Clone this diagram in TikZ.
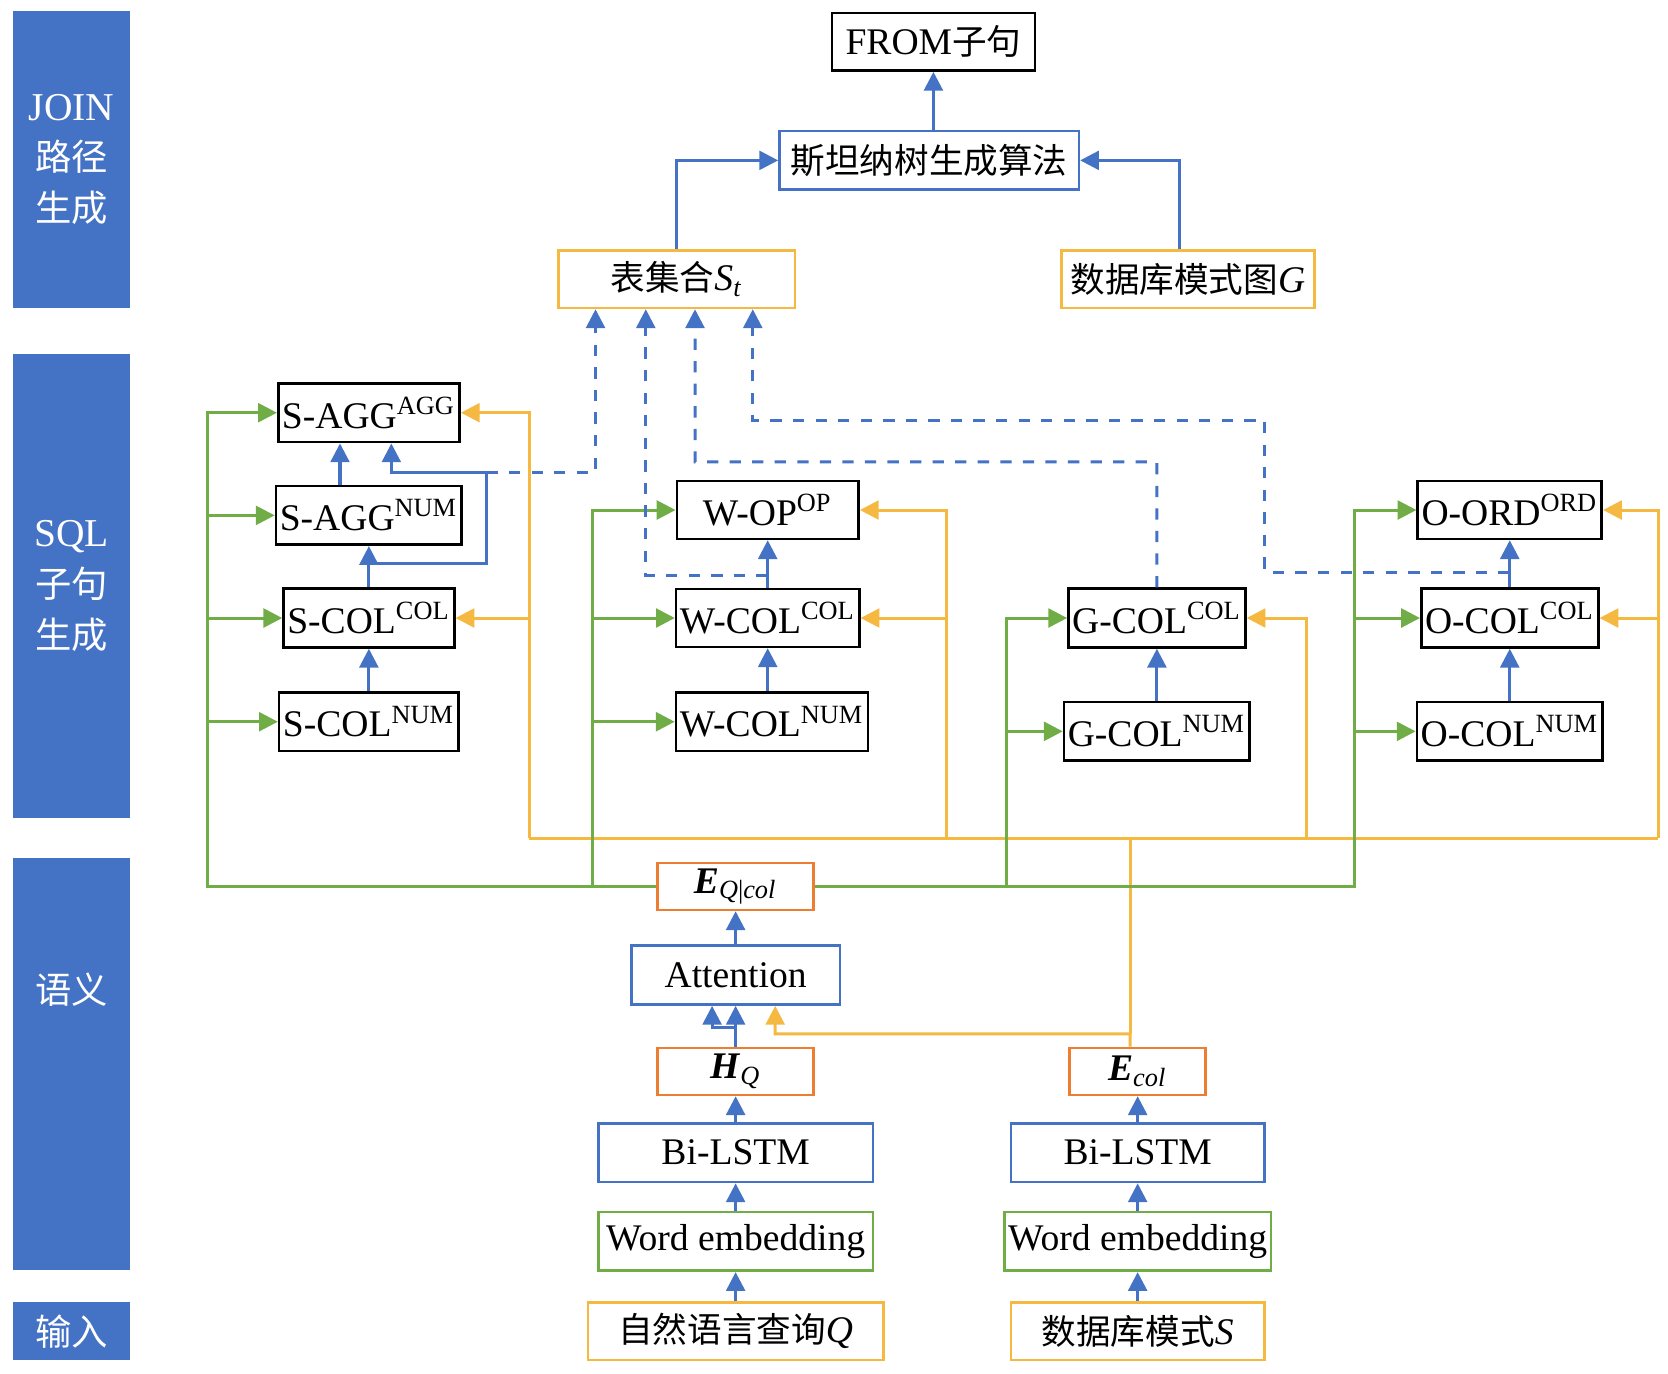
\documentclass[tikz,border=0pt]{standalone}
\usepackage{fontspec}
\setmainfont{Liberation Serif}
\newfontfamily\cjk{Noto Sans CJK SC}[Scale=0.92]
\usetikzlibrary{arrows.meta}
\definecolor{cblue}{HTML}{4472C4}
\definecolor{corange}{HTML}{F5B942}
\definecolor{cgreen}{HTML}{70AD47}
\definecolor{cred}{HTML}{ED7D31}
\newcommand{\hi}[1]{\textsuperscript{#1}}
\tikzset{
  sz/.style 2 args={minimum width=#1*0.01cm, minimum height=#2*0.01cm},
  box/.style={draw, line width=0.7pt, inner sep=1pt, font=\fontsize{10}{12}\selectfont},
  side/.style={fill=cblue, text=white, align=center, inner sep=0pt, font=\fontsize{10.5}{13.5}\selectfont},
  up/.style={-{Triangle[length=5pt,width=5pt]}, line width=0.8pt, cblue},
  dup/.style={up, dashed},
  feed/.style={-{Triangle[length=5pt,width=5pt]}, line width=0.8pt, cgreen},
  back/.style={-{Triangle[length=5pt,width=5pt]}, line width=0.8pt, corange}
}
\begin{document}
\begin{tikzpicture}[x=0.01cm, y=-0.01cm]
  \useasboundingbox (0,0) rectangle (1560,1285);
  % side bars
  \node[side, sz={110}{278}] (b1) at (67,149) {JOIN\\{\cjk 路径}\\{\cjk 生成}};
  \node[side, sz={110}{434}] (b2) at (67,548) {SQL\\{\cjk 子句}\\{\cjk 生成}};
  \node[side, sz={110}{386}] (b3) at (67,995) {\cjk 语义\\特征\\表达\\编码};
  \node[side, sz={110}{54}] (b4) at (67,1245) {\cjk 输入};

  % join path
  \node[box, sz={190}{54}] (from) at (873,39) {FROM{\cjk 子句}};
  \node[box, cblue, text=black, sz={280}{55}] (steiner) at (869,150) {\cjk 斯坦纳树生成算法};
  \node[box, corange, text=black, sz={221}{54}] (st) at (633,261) {{\cjk 表集合}\textit{S}\textsubscript{\textit{t}}};
  \node[box, corange, text=black, sz={237}{54}] (graph) at (1111,261) {{\cjk 数据库模式图}\textit{G}};

  % sql clauses
  \node[box, sz={157}{55}] (sagg) at (345,386) {S-AGG\hi{AGG}};
  \node[box, sz={157}{55}] (saggn) at (345,482) {S-AGG\hi{NUM}};
  \node[box, sz={157}{55}] (scol) at (345,578) {S-COL\hi{COL}};
  \node[box, sz={157}{55}] (scoln) at (345,675) {S-COL\hi{NUM}};
  \node[box, sz={170}{54}] (wop) at (718,477) {W-OP\hi{OP}};
  \node[box, sz={170}{54}] (wcol) at (718,578) {W-COL\hi{COL}};
  \node[box, sz={170}{55}] (wcoln) at (722,675) {W-COL\hi{NUM}};
  \node[box, sz={162}{55}] (gcol) at (1082,578) {G-COL\hi{COL}};
  \node[box, sz={162}{55}] (gcoln) at (1082,684) {G-COL\hi{NUM}};
  \node[box, sz={158}{54}] (oord) at (1412,477) {O-ORD\hi{ORD}};
  \node[box, sz={158}{55}] (ocol) at (1412,578) {O-COL\hi{COL}};
  \node[box, sz={158}{55}] (ocoln) at (1412,684) {O-COL\hi{NUM}};

  % encoding
  \node[box, cred, text=black, sz={146}{44}] (eq) at (688,829) {\textbf{\textit{E}}\textsubscript{\textit{Q}|\textit{col}}};
  \node[box, cblue, text=black, sz={195}{55}] (att) at (688,912) {Attention};
  \node[box, cred, text=black, sz={146}{44}] (hq) at (688,1002) {\textbf{\textit{H}}\textsubscript{\textit{Q}}};
  \node[box, cred, text=black, sz={127}{44}] (ecol) at (1064,1002) {\textbf{\textit{E}}\textsubscript{\textit{col}}};
  \node[box, cblue, text=black, sz={257}{55}] (lstmq) at (688,1078) {Bi-LSTM};
  \node[box, cblue, text=black, sz={237}{55}] (lstms) at (1064,1078) {Bi-LSTM};
  \node[box, cgreen, text=black, sz={257}{55}] (embq) at (688,1161) {Word embedding};
  \node[box, cgreen, text=black, sz={237}{55}] (embs) at (1064,1161) {Word embedding};
  \node[box, corange, text=black, sz={276}{54}] (inq) at (688,1245) {{\cjk 自然语言查询}\textit{Q}};
  \node[box, corange, text=black, sz={237}{54}] (ins) at (1064,1245) {{\cjk 数据库模式}\textit{S}};

  % input chains
  \draw[up] (inq) -- (embq);
  \draw[up] (embq) -- (lstmq);
  \draw[up] (lstmq) -- (hq);
  \draw[up] (hq.north) -- ++(0,-18) -| ([xshift=-0.22cm]att.south);
  \draw[up] (hq) -- (att);
  \draw[up] (att) -- (eq);
  \draw[up] (ins) -- (embs);
  \draw[up] (embs) -- (lstms);
  \draw[up] (lstms) -- (ecol);

  % column encoding feeds
  \draw[back] ([xshift=-0.07cm]ecol.north) |- (725,967) -- ([xshift=0.37cm]att.south);
  \draw[corange, line width=0.8pt] (1057,967) -- (1057,784);
  \draw[corange, line width=0.8pt] (495,784) -- (1551,784);
  \draw[back] (495,784) |- (sagg.east);
  \draw[back] (495,578) -- (scol.east);
  \draw[back] (885,784) |- (wop.east);
  \draw[back] (885,578) -- (wcol.east);
  \draw[back] (1222,784) |- (gcol.east);
  \draw[back] (1551,784) |- (oord.east);
  \draw[back] (1551,578) -- (ocol.east);

  % question encoding feeds
  \draw[feed] (eq.west) -| (194,386) -- (sagg.west);
  \draw[feed] (194,482) -- (saggn.west);
  \draw[feed] (194,578) -- (scol.west);
  \draw[feed] (194,675) -- (scoln.west);
  \draw[feed] (554,829) |- (wop.west);
  \draw[feed] (554,578) -- (wcol.west);
  \draw[feed] (554,675) -- (wcoln.west);
  \draw[feed] (eq.east) -| (1267,477) -- (oord.west);
  \draw[feed] (941,829) |- (gcol.west);
  \draw[feed] (941,684) -- (gcoln.west);
  \draw[feed] (1267,578) -- (ocol.west);
  \draw[feed] (1267,684) -- (ocoln.west);

  % clause dependencies
  \draw[up] (scoln) -- (scol);
  \draw[up] (scol) -- (saggn);
  \draw[up] ([xshift=-0.27cm]saggn.north) -- ([xshift=-0.27cm]sagg.south);
  \draw[up] (345,527) -| (455,442) -| ([xshift=0.21cm]sagg.south);
  \draw[up] (wcoln.north -| wcol) -- (wcol);
  \draw[up] (wcol) -- (wop);
  \draw[up] (gcoln) -- (gcol);
  \draw[up] (ocoln) -- (ocol);
  \draw[up] (ocol) -- (oord);

  % table set
  \draw[dup] (455,442) -| ([xshift=-0.76cm]st.south);
  \draw[dup] (718,538) -| ([xshift=-0.29cm]st.south);
  \draw[dup] (gcol.north) |- (650,432) -- ([xshift=0.17cm]st.south);
  \draw[dup] (1412,535) -| (1183,393) -| ([xshift=0.71cm]st.south);

  % steiner tree
  \draw[up] (st.north) |- (steiner.west);
  \draw[up] ([xshift=-0.08cm]graph.north) |- (steiner.east);
  \draw[up] (steiner.north -| from) -- (from);
\end{tikzpicture}
\end{document}
